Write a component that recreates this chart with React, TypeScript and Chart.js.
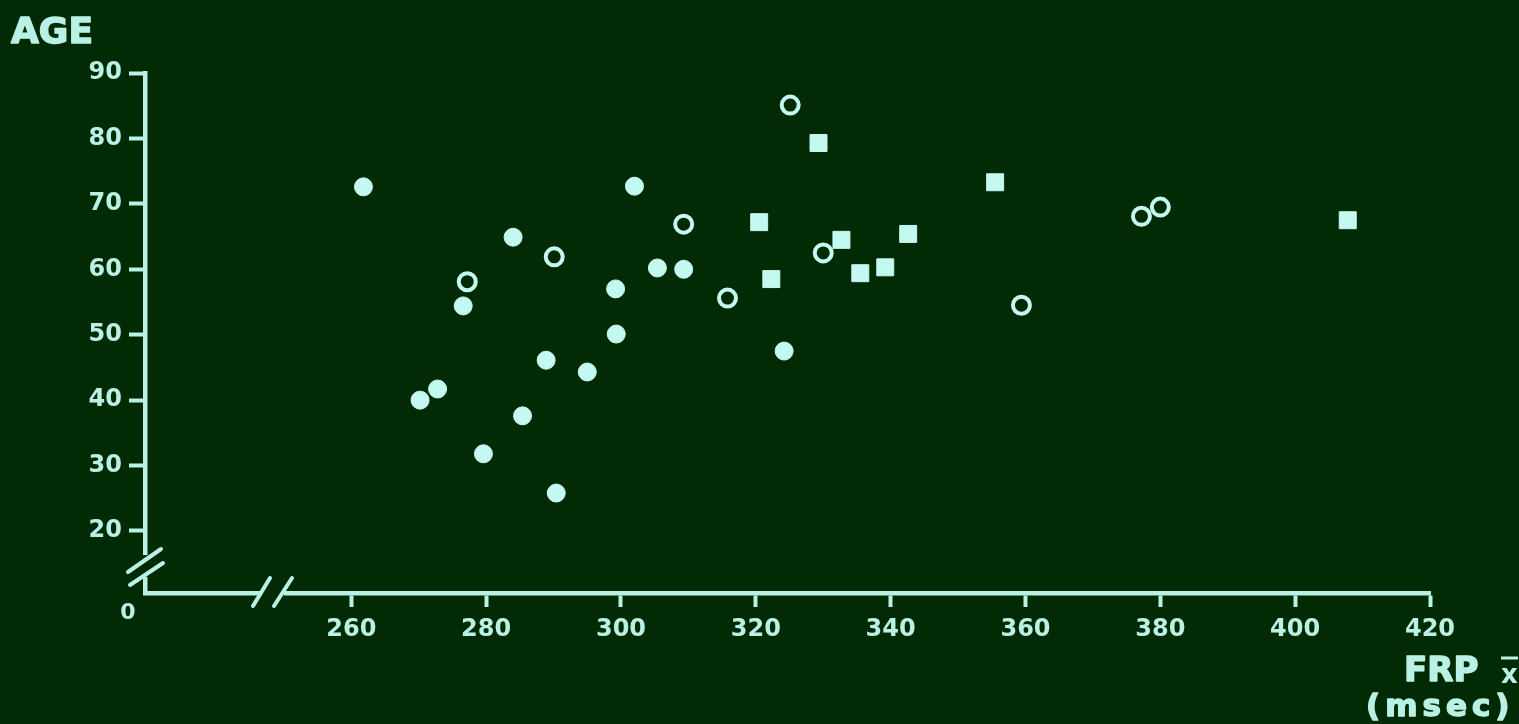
import React, { useEffect, useRef } from "react";
import { Chart, registerables } from "chart.js";

Chart.register(...registerables);

// Data
const filledX = [261.8, 302.0, 284.0, 305.4, 309.3, 299.2, 276.6, 299.3, 288.9, 295.0, 272.8, 270.2, 285.4, 279.6, 290.4, 324.2];
const filledY = [72.6, 72.7, 64.9, 60.2, 60.0, 57.0, 54.4, 50.1, 46.1, 44.3, 41.7, 40.0, 37.6, 31.8, 25.8, 47.5];
const openX = [325.1, 309.3, 290.1, 277.2, 330.0, 315.8, 359.4, 377.2, 380.0];
const openY = [85.1, 66.9, 61.9, 58.1, 62.5, 55.6, 54.5, 68.1, 69.5];
const squareX = [329.3, 320.5, 322.3, 332.7, 335.5, 339.2, 342.6, 355.5, 407.8];
const squareY = [79.3, 67.2, 58.5, 64.5, 59.4, 60.3, 65.4, 73.3, 67.5];
const xTicks = [260, 280, 300, 320, 340, 360, 380, 400, 420];
const yTicks = [20, 30, 40, 50, 60, 70, 80, 90];
const yTitle = "AGE";
const xTitle = "FRP";
const xTitleSym = "x";
const xUnit = "(msec)";
const originLabel = "0";

const BG = "#022a05";
const FG = "#b9f2e4";
const MARK = "#c4f9f1";
const FONT = "'DejaVu Sans', sans-serif";

const pts = (xs: number[], ys: number[]) => xs.map((x, i) => ({ x, y: ys[i] }));

const decor = {
  id: "decor",
  beforeDraw(chart: any) {
    const { ctx, width, height } = chart;
    ctx.save();
    ctx.fillStyle = BG;
    ctx.fillRect(0, 0, width, height);
    ctx.restore();
  },
  afterDraw(chart: any) {
    const { ctx, chartArea } = chart;
    const L = chartArea.left;
    const B = chartArea.bottom;
    ctx.save();
    // y-axis break
    ctx.fillStyle = BG;
    ctx.fillRect(L - 6, B - 38, 12, 22);
    // x-axis break
    ctx.fillRect(L + 117, B - 6, 22, 12);
    ctx.strokeStyle = FG;
    ctx.lineWidth = 4;
    ctx.lineCap = "round";
    ctx.beginPath();
    ctx.moveTo(L - 17, B - 21);
    ctx.lineTo(L + 16, B - 44);
    ctx.moveTo(L - 15, B - 8);
    ctx.lineTo(L + 18, B - 30);
    ctx.moveTo(L + 108, B + 13);
    ctx.lineTo(L + 125, B - 15);
    ctx.moveTo(L + 129, B + 13);
    ctx.lineTo(L + 147, B - 15);
    ctx.stroke();

    ctx.fillStyle = FG;
    ctx.strokeStyle = FG;
    ctx.lineWidth = 1.5;
    ctx.lineJoin = "round";
    ctx.textBaseline = "alphabetic";
    ctx.textAlign = "left";
    ctx.font = `bold 36px ${FONT}`;
    ctx.fillText(yTitle, 11, 43);
    ctx.strokeText(yTitle, 11, 43);
    ctx.font = `bold 34px ${FONT}`;
    ctx.fillText(xTitle, 1404, 681);
    ctx.strokeText(xTitle, 1404, 681);
    // x-bar symbol
    ctx.font = `bold 26px ${FONT}`;
    ctx.fillText(xTitleSym, 1501, 683);
    ctx.lineWidth = 3;
    ctx.lineCap = "butt";
    ctx.beginPath();
    ctx.moveTo(1501, 658);
    ctx.lineTo(1518, 658);
    ctx.stroke();
    ctx.lineWidth = 1.5;
    ctx.font = `bold 31px ${FONT}`;
    (ctx as any).letterSpacing = "5px";
    ctx.fillText(xUnit, 1366, 716);
    ctx.strokeText(xUnit, 1366, 716);
    (ctx as any).letterSpacing = "0px";
    ctx.font = `bold 22px ${FONT}`;
    ctx.textAlign = "center";
    ctx.textBaseline = "middle";
    ctx.fillText(originLabel, L - 17, B + 20);
    ctx.restore();
  },
};

export default function App() {
  const ref = useRef<HTMLCanvasElement | null>(null);
  useEffect(() => {
    document.body.style.margin = "0";
    document.body.style.background = BG;
    const canvas = ref.current!;
    const tickFont = { family: FONT, size: 24, weight: "bold" as const };
    const chart = new Chart(canvas, {
      type: "scatter",
      data: {
        datasets: [
          {
            label: "filled",
            data: pts(filledX, filledY),
            pointStyle: "circle",
            pointRadius: 9,
            backgroundColor: MARK,
            borderColor: MARK,
            borderWidth: 1,
          },
          {
            label: "open",
            data: pts(openX, openY),
            pointStyle: "circle",
            pointRadius: 8.5,
            backgroundColor: BG,
            borderColor: MARK,
            borderWidth: 4,
          },
          {
            label: "square",
            data: pts(squareX, squareY),
            pointStyle: "rect",
            pointRadius: 12,
            backgroundColor: MARK,
            borderColor: MARK,
            borderWidth: 1,
          },
        ],
      },
      options: {
        responsive: false,
        animation: false,
        devicePixelRatio: 1,
        layout: { padding: { left: 0, top: 73, right: 89, bottom: 0 } },
        plugins: { legend: { display: false }, tooltip: { enabled: false }, title: { display: false } },
        scales: {
          x: {
            type: "linear",
            min: 229.4,
            max: 420,
            afterBuildTicks: (s: any) => {
              s.ticks = xTicks.map((v) => ({ value: v }));
            },
            afterFit: (s: any) => {
              s.height = 131;
            },
            border: { display: true, color: FG, width: 4.5 },
            grid: { drawOnChartArea: false, drawTicks: true, tickLength: 14, tickWidth: 4, tickColor: FG, color: FG },
            ticks: { color: FG, font: tickFont, padding: 8, maxRotation: 0, autoSkip: false },
          },
          y: {
            type: "linear",
            min: 10.52,
            max: 90,
            afterBuildTicks: (s: any) => {
              s.ticks = yTicks.map((v) => ({ value: v }));
            },
            afterFit: (s: any) => {
              s.width = 145;
            },
            border: { display: true, color: FG, width: 4.5 },
            grid: { drawOnChartArea: false, drawTicks: true, tickLength: 16, tickWidth: 4, tickColor: FG, color: FG },
            ticks: { color: FG, font: tickFont, padding: 7, autoSkip: false },
          },
        },
      },
      plugins: [decor],
    } as any);
    return () => chart.destroy();
  }, []);
  return (
    <div style={{ position: "absolute", left: 0, top: 0, width: 1519, height: 724, background: BG }}>
      <canvas ref={ref} width={1519} height={724} style={{ display: "block" }} />
    </div>
  );
}
